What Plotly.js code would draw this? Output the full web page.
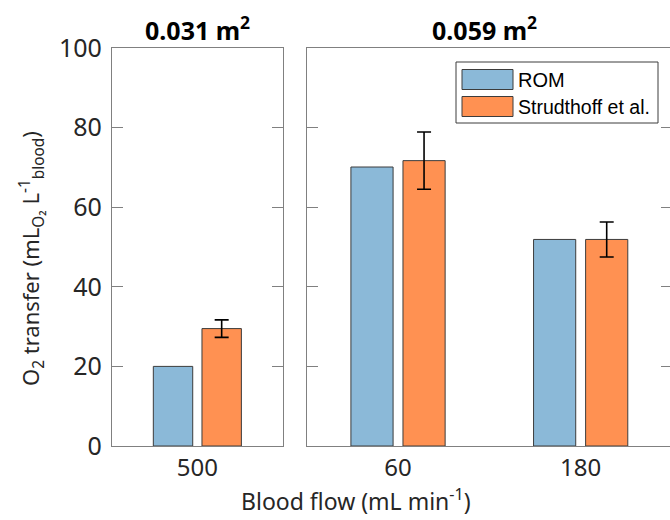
<!DOCTYPE html>
<html>
<head>
<meta charset="utf-8">
<script src="https://cdn.plot.ly/plotly-3.0.1.min.js"></script>
<style>
html,body{margin:0;padding:0;overflow:hidden;background:#fff;}
#chart{width:672px;height:520px;}
</style>
</head>
<body>
<div id="chart"></div>
<script>
// ---- data ----
const seriesNames = ['ROM', 'Strudthoff et al.'];
const leftCategories = ['500'];
const rightCategories = ['60', '180'];
const romLeft = [20.0];
const strudLeft = [29.5];
const strudLeftErr = [2.2];
const romRight = [70.1, 51.9];
const strudRight = [71.7, 51.9];
const strudRightErr = [7.2, 4.4];
const panelTitles = ['0.031 m<sup>2</sup>', '0.059 m<sup>2</sup>'];
const yTickValues = [0, 20, 40, 60, 80, 100];
const yTitle = 'O<sub>2</sub> transfer (mL<sub>O₂</sub> L<sup>-1</sup><sub>blood</sub>)';
const xTitle = 'Blood flow (mL min<sup>-1</sup>)';

// ---- style ----
const blue = 'rgb(139,185,216)';
const orange = 'rgb(255,145,82)';
const edge = 'rgb(60,60,60)';
const axisGray = 'rgb(128,128,128)';
const FONT = 'Noto Sans, Liberation Sans, Arial, sans-serif';
const LFONT = 'Liberation Sans, Arial, sans-serif';

const W = 672, H = 520;
const M = {l: 112, r: 0, t: 48, b: 74};
const PW = W - M.l - M.r, PH = H - M.t - M.b;
const px = x => (x - M.l) / PW;
const py = y => (H - M.b - y) / PH;

function errSpec(arr) {
  return {type: 'data', array: arr, visible: true, color: '#000', thickness: 1.6, width: 7};
}

const traces = [
  {type: 'bar', name: seriesNames[0], x: leftCategories, y: romLeft, xaxis: 'x', yaxis: 'y',
   marker: {color: blue, line: {color: edge, width: 1}}, showlegend: false},
  {type: 'bar', name: seriesNames[1], x: leftCategories, y: strudLeft, xaxis: 'x', yaxis: 'y',
   marker: {color: orange, line: {color: edge, width: 1}}, error_y: errSpec(strudLeftErr), showlegend: false},
  {type: 'bar', name: seriesNames[0], x: rightCategories, y: romRight, xaxis: 'x2', yaxis: 'y2',
   marker: {color: blue, line: {color: edge, width: 1}}, showlegend: false},
  {type: 'bar', name: seriesNames[1], x: rightCategories, y: strudRight, xaxis: 'x2', yaxis: 'y2',
   marker: {color: orange, line: {color: edge, width: 1}}, error_y: errSpec(strudRightErr), showlegend: false}
];

const commonX = {
  type: 'category', showline: true, linecolor: axisGray, linewidth: 1.2, mirror: true,
  ticks: '', showgrid: false, zeroline: false,
  tickfont: {family: FONT, size: 24, color: '#262626'}
};
const commonY = {
  range: [0, 100], tickvals: yTickValues, showline: true, linecolor: axisGray, linewidth: 1.2,
  mirror: 'ticks', ticks: 'inside', ticklen: 11, tickcolor: axisGray, tickwidth: 1.2,
  showgrid: false, zeroline: false,
  tickfont: {family: FONT, size: 25, color: '#262626'}
};

// legend drawn as shapes + annotations (large swatches like the reference)
const legBox = {x0: 456, x1: 658, y0: 62, y1: 123};
const sw = [{y0: 69.5, y1: 89.5, c: blue}, {y0: 96.5, y1: 116.5, c: orange}];

const shapes = [
  {type: 'rect', xref: 'paper', yref: 'paper', x0: px(legBox.x0), x1: px(legBox.x1), y0: py(legBox.y1), y1: py(legBox.y0),
   line: {color: 'rgb(60,60,60)', width: 1}, fillcolor: '#fff', layer: 'above'}
];
sw.forEach(s => shapes.push({type: 'rect', xref: 'paper', yref: 'paper',
  x0: px(462), x1: px(513), y0: py(s.y1), y1: py(s.y0),
  line: {color: edge, width: 1}, fillcolor: s.c, layer: 'above'}));

const annotations = [
  {text: '<b>' + panelTitles[0] + '</b>', xref: 'paper', yref: 'paper', x: px(197), y: py(28),
   xanchor: 'center', yanchor: 'middle', showarrow: false, font: {family: FONT, size: 25, color: '#000'}},
  {text: '<b>' + panelTitles[1] + '</b>', xref: 'paper', yref: 'paper', x: px(484), y: py(28),
   xanchor: 'center', yanchor: 'middle', showarrow: false, font: {family: FONT, size: 25, color: '#000'}},
  {text: xTitle, xref: 'paper', yref: 'paper', x: px(356), y: py(500),
   xanchor: 'center', yanchor: 'middle', showarrow: false, font: {family: FONT, size: 23, color: '#262626'}},
  {text: yTitle, xref: 'paper', yref: 'paper', x: px(31), y: py(258), textangle: -90,
   xanchor: 'center', yanchor: 'middle', showarrow: false, font: {family: FONT, size: 22, color: '#262626'}},
  {text: seriesNames[0], xref: 'paper', yref: 'paper', x: px(516), y: py(79.5),
   xanchor: 'left', yanchor: 'middle', showarrow: false, font: {family: LFONT, size: 20, color: '#000'}},
  {text: seriesNames[1], xref: 'paper', yref: 'paper', x: px(516), y: py(106.5),
   xanchor: 'left', yanchor: 'middle', showarrow: false, font: {family: LFONT, size: 19.5, color: '#000'}}
];

const layout = {
  width: W, height: H, margin: M,
  paper_bgcolor: '#fff', plot_bgcolor: '#fff',
  barmode: 'group', bargap: 0.43, bargroupgap: 0.19,
  showlegend: false,
  xaxis: Object.assign({}, commonX, {domain: [0, px(282.7)], range: [-0.5, 0.5], anchor: 'y'}),
  yaxis: Object.assign({}, commonY, {domain: [0, 1], anchor: 'x', ticklabelstandoff: 4}),
  xaxis2: Object.assign({}, commonX, {domain: [px(306.7), 1], range: [-0.5, 1.5], anchor: 'y2'}),
  yaxis2: Object.assign({}, commonY, {domain: [0, 1], anchor: 'x2', showticklabels: false}),
  shapes: shapes,
  annotations: annotations
};

Plotly.newPlot('chart', traces, layout, {displayModeBar: false, staticPlot: true});
</script>
</body>
</html>
